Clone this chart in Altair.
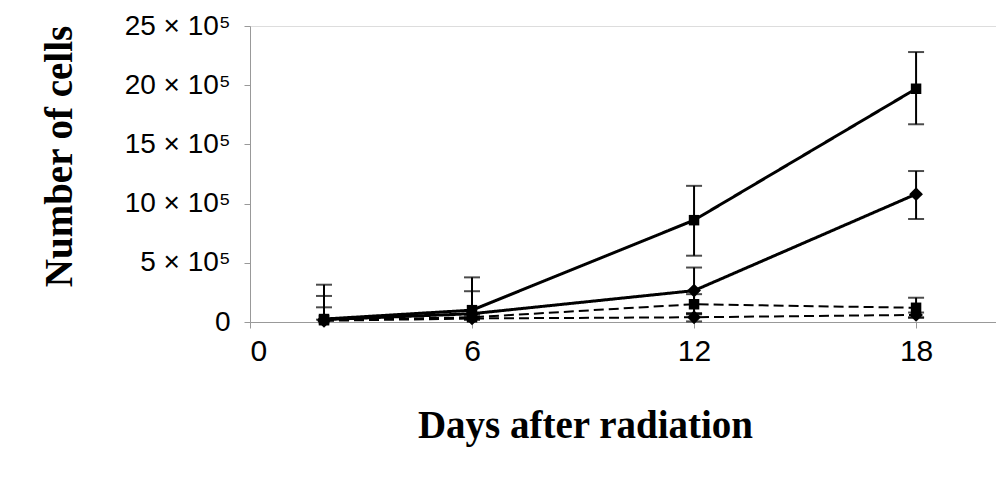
import altair as alt
import pandas as pd

# Days after radiation
days = [2, 6, 12, 18]

# Series values in units of 10^5 cells
series_names = ["Solid square", "Solid diamond", "Dashed square", "Dashed diamond"]
series_shape = ["square", "diamond", "square", "diamond"]
series_style = ["solid", "solid", "dashed", "dashed"]

mean_solid_square = [0.25, 1.0, 8.6, 19.7]
hi_solid_square = [3.15, 3.77, 11.5, 22.8]
lo_solid_square = [0.0, 0.0, 5.6, 16.7]

mean_solid_diamond = [0.2, 0.7, 2.65, 10.8]
hi_solid_diamond = [2.2, 2.6, 4.6, 12.75]
lo_solid_diamond = [0.0, 0.0, 0.7, 8.7]

mean_dashed_square = [0.15, 0.4, 1.5, 1.2]
hi_dashed_square = [1.24, 0.6, 2.35, 2.05]
lo_dashed_square = [0.0, 0.2, 0.65, 0.35]

mean_dashed_diamond = [0.1, 0.3, 0.4, 0.6]
hi_dashed_diamond = [0.2, 0.4, 0.75, 0.8]
lo_dashed_diamond = [0.0, 0.2, 0.05, 0.4]

y_ticks = [0, 5, 10, 15, 20, 25]
x_ticks = [0, 6, 12, 18]

means = [mean_solid_square, mean_solid_diamond, mean_dashed_square, mean_dashed_diamond]
his = [hi_solid_square, hi_solid_diamond, hi_dashed_square, hi_dashed_diamond]
los = [lo_solid_square, lo_solid_diamond, lo_dashed_square, lo_dashed_diamond]

rows = []
for name, shp, sty, m, h, l in zip(series_names, series_shape, series_style, means, his, los):
    for d, mv, hv, lv in zip(days, m, h, l):
        rows.append({"series": name, "shape": shp, "style": sty, "day": d,
                     "mean": mv, "hi": hv, "lo": lv})
df = pd.DataFrame(rows)

x_scale = alt.Scale(domain=[0, 20.16], nice=False, zero=False)
y_scale = alt.Scale(domain=[0, 25], nice=False)

base = alt.Chart(df)

x_enc = alt.X("day:Q", scale=x_scale, axis=alt.Axis(
    values=x_ticks, grid=False, title="Days after radiation",
    labelFont="Liberation Sans", labelFontSize=30, labelColor="black",
    labelPadding=8, tickSize=6, tickColor="#999999", domainColor="#999999",
    titleFont="Liberation Serif", titleFontSize=39, titleFontWeight="bold",
    titleColor="black", titleX=335, titleY=115, titleBaseline="alphabetic",
    titleAlign="center", titleAnchor="start"))

y_enc = alt.Y("mean:Q", scale=y_scale, axis=alt.Axis(
    values=y_ticks, grid=False, title="Number of cells",
    labelExpr="datum.value == 0 ? '0' : datum.value + ' × 10⁵'",
    labelFont="Liberation Sans", labelFontSize=28, labelColor="black",
    labelPadding=14, tickSize=6, tickColor="#999999", domainColor="#999999",
    titleFont="Liberation Serif", titleFontSize=39, titleFontWeight="bold",
    titleColor="black", titleX=-179, titleY=130, titleBaseline="alphabetic",
    titleAlign="center", titleAngle=270))

lines = base.mark_line(color="black").encode(
    x=x_enc, y=y_enc, detail="series:N",
    strokeDash=alt.StrokeDash("style:N", scale=alt.Scale(
        domain=["solid", "dashed"], range=[[1, 0], [10, 5]]), legend=None),
    strokeWidth=alt.StrokeWidth("style:N", scale=alt.Scale(
        domain=["solid", "dashed"], range=[3, 2]), legend=None),
)

err = base.mark_rule(color="black", strokeWidth=2).encode(
    x="day:Q", y=alt.Y("lo:Q", scale=y_scale), y2="hi:Q")

cap_hi = base.mark_tick(color="black", orient="horizontal", size=16, thickness=2).encode(
    x="day:Q", y=alt.Y("hi:Q", scale=y_scale))

cap_lo = base.transform_filter("datum.lo > 0").mark_tick(
    color="black", orient="horizontal", size=16, thickness=2).encode(
    x="day:Q", y=alt.Y("lo:Q", scale=y_scale))

points = base.mark_point(filled=True, color="black", opacity=1).encode(
    x="day:Q", y=alt.Y("mean:Q", scale=y_scale),
    shape=alt.Shape("shape:N", scale=alt.Scale(
        domain=["square", "diamond"], range=["square", "diamond"]), legend=None),
    size=alt.Size("shape:N", scale=alt.Scale(
        domain=["square", "diamond"], range=[110, 190]), legend=None),
)

chart = alt.layer(lines, err, cap_hi, cap_lo, points).properties(
    width=746, height=296,
    autosize=alt.AutoSizeParams(type="none"),
    padding={"left": 242, "top": 18, "right": 0, "bottom": 169},
).configure_view(stroke=None).configure(background="white")

chart.save("out.html", embed_options={"renderer": "svg", "actions": False})
